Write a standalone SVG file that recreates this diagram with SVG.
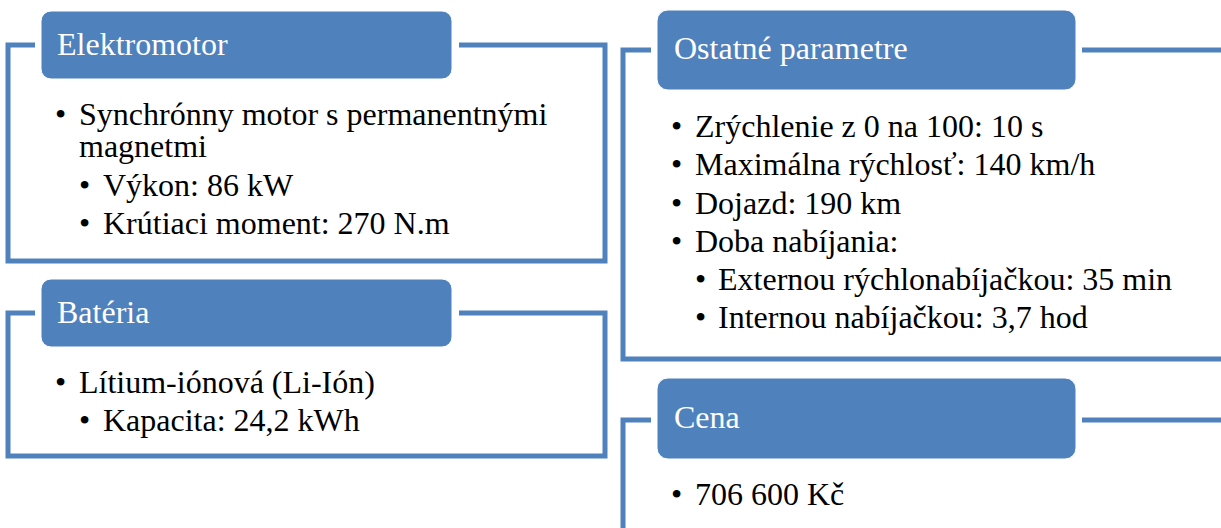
<svg xmlns="http://www.w3.org/2000/svg" width="1221" height="528" viewBox="0 0 1221 528">
<style>
.br{fill:none;stroke:#4F81BD;stroke-width:5;stroke-linejoin:miter}
.hd{fill:#4F81BD;stroke:#ffffff;stroke-width:1}
.ht{font-family:"Liberation Serif","Times New Roman",serif;font-size:32px;fill:#ffffff}
.bt{font-family:"Liberation Serif","Times New Roman",serif;font-size:32px;fill:#000000}
</style>
<rect width="1221" height="528" fill="#ffffff"/>
<g id="connectors">
<path class="br" d="M35,45 H8 V261 H605 V45 H459"/>
<path class="br" d="M35,313 H8 V456 H605 V313 H459"/>
<path class="br" d="M651,50 H623 V359 H1221"/>
<path class="br" d="M1082,50 H1221"/>
<path class="br" d="M651,420 H623 V528"/>
<path class="br" d="M1082,420 H1221"/>
</g>
<g id="elektromotor">
<rect class="hd" x="41" y="11" width="411" height="68" rx="10"/>
<text class="ht" x="57" y="55">Elektromotor</text>
<text class="bt" x="55" y="125">•</text>
<text class="bt"><tspan x="79" y="125">Synchrónny motor s permanentnými</tspan><tspan x="79" y="157">magnetmi</tspan></text>
<text class="bt" x="79" y="196">•</text>
<text class="bt" x="103" y="196">Výkon: 86 kW</text>
<text class="bt" x="79" y="234">•</text>
<text class="bt" x="103" y="234">Krútiaci moment: 270 N.m</text>
</g>
<g id="bateria">
<rect class="hd" x="41" y="279" width="411" height="68" rx="10"/>
<text class="ht" x="57" y="323">Batéria</text>
<text class="bt" x="55" y="393">•</text>
<text class="bt" x="79" y="393">Lítium-iónová (Li-Ión)</text>
<text class="bt" x="79" y="431">•</text>
<text class="bt" x="103" y="431">Kapacita: 24,2 kWh</text>
</g>
<g id="ostatne">
<rect class="hd" x="657" y="10" width="419" height="80" rx="11"/>
<text class="ht" x="674" y="59">Ostatné parametre</text>
<text class="bt" x="671" y="137">•</text>
<text class="bt" x="695" y="137">Zrýchlenie z 0 na 100: 10 s</text>
<text class="bt" x="671" y="175">•</text>
<text class="bt" x="695" y="175">Maximálna rýchlosť: 140 km/h</text>
<text class="bt" x="671" y="214">•</text>
<text class="bt" x="695" y="214">Dojazd: 190 km</text>
<text class="bt" x="671" y="252">•</text>
<text class="bt" x="695" y="252">Doba nabíjania:</text>
<text class="bt" x="695" y="290">•</text>
<text class="bt" x="718" y="290">Externou rýchlonabíjačkou: 35 min</text>
<text class="bt" x="695" y="328">•</text>
<text class="bt" x="718" y="328">Internou nabíjačkou: 3,7 hod</text>
</g>
<g id="cena">
<rect class="hd" x="657" y="378" width="419" height="81" rx="11"/>
<text class="ht" x="674" y="428">Cena</text>
<text class="bt" x="671" y="505">•</text>
<text class="bt" x="695" y="505">706 600 Kč</text>
</g>
</svg>
